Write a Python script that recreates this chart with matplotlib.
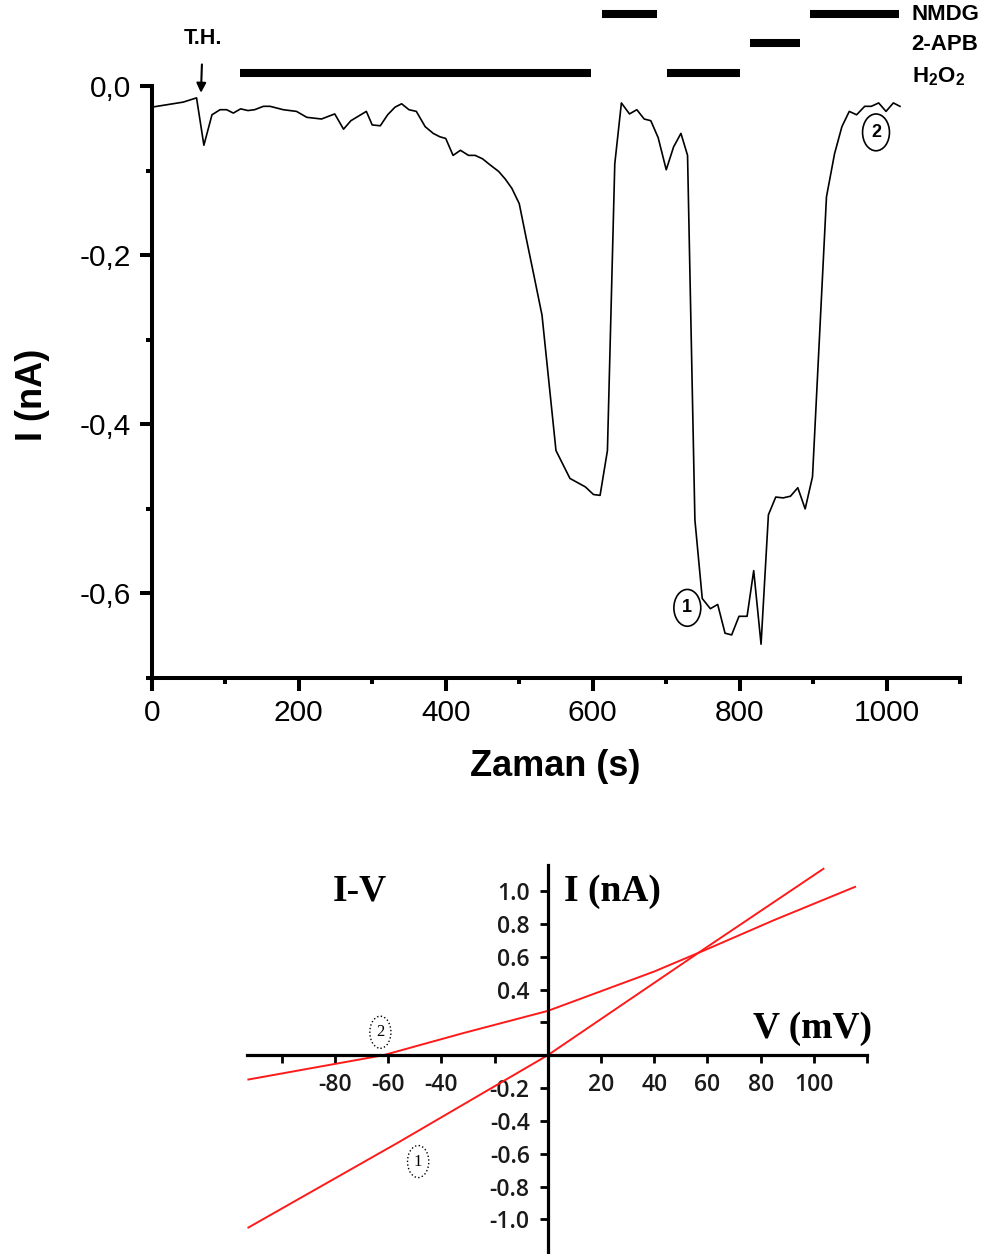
import matplotlib.pyplot as plt
from matplotlib.ticker import MultipleLocator

plt.rcParams["font.family"] = ["Liberation Sans", "DejaVu Sans"]
plt.rcParams["mathtext.fontset"] = "custom"
plt.rcParams["mathtext.rm"] = "Liberation Sans"
plt.rcParams["mathtext.bf"] = "Liberation Sans:bold"

# current trace (time in s, current in nA)
t = [0, 43, 61, 71, 82, 93, 102, 111, 121, 131, 140, 152, 161, 179, 197, 211,
     231, 240, 249, 261, 271, 292, 300, 311, 321, 331, 340, 350, 360, 372, 383,
     392, 400, 410, 420, 431, 440, 450, 460, 472, 481, 490, 500, 510, 520, 531,
     550, 569, 590, 601, 610, 620, 630, 639, 650, 660, 670, 679, 689, 700, 710,
     720, 729, 739, 749, 760, 770, 780, 789, 799, 810, 819, 829, 839, 849, 859,
     869, 879, 889, 899, 918, 929, 939, 949, 959, 970, 979, 989, 999, 1009, 1018]
current = [-0.025, -0.019, -0.014, -0.070, -0.034, -0.028, -0.028, -0.032,
           -0.027, -0.029, -0.028, -0.024, -0.024, -0.028, -0.030, -0.037,
           -0.039, -0.036, -0.033, -0.051, -0.041, -0.030, -0.046, -0.047,
           -0.034, -0.025, -0.021, -0.028, -0.030, -0.048, -0.056, -0.060,
           -0.062, -0.082, -0.076, -0.082, -0.082, -0.086, -0.093, -0.101,
           -0.110, -0.121, -0.139, -0.182, -0.224, -0.271, -0.431, -0.464,
           -0.474, -0.483, -0.484, -0.431, -0.092, -0.020, -0.033, -0.028,
           -0.039, -0.041, -0.061, -0.099, -0.072, -0.056, -0.082, -0.513,
           -0.606, -0.618, -0.613, -0.647, -0.649, -0.627, -0.627, -0.573,
           -0.660, -0.507, -0.486, -0.487, -0.485, -0.475, -0.500, -0.462,
           -0.131, -0.080, -0.048, -0.030, -0.034, -0.024, -0.024, -0.020,
           -0.030, -0.020, -0.024]

# application bars (start, end in s)
nmdg_bars = [(612, 688), (895, 1016)]
apb_bars = [(814, 882)]
h2o2_bars = [(120, 598), (701, 800)]
bar_names = ["NMDG", "2-APB", r"H$_\mathbf{2}$O$_\mathbf{2}$"]

yticks_top = [-0.6, -0.4, -0.2, 0.0]
yticklabels_top = ["-0,6", "-0,4", "-0,2", "0,0"]
xticks_top = [0, 200, 400, 600, 800, 1000]

# I-V curves
v1 = [-112.5, -56, 0, 59, 103.6]
i1 = [-1.05, -0.53, 0, 0.65, 1.136]
v2 = [-112.5, -61.8, -31.7, 0, 20, 40, 59, 85, 115.5]
i2 = [-0.148, 0, 0.135, 0.27, 0.39, 0.51, 0.64, 0.823, 1.026]

iv_xticks = [-100, -80, -60, -40, -20, 20, 40, 60, 80, 100, 120]
iv_xlabels = ["", "-80", "-60", "-40", "", "20", "40", "60", "80", "100", ""]
iv_yticks = [-1.0, -0.8, -0.6, -0.4, -0.2, 0.2, 0.4, 0.6, 0.8, 1.0]
iv_ylabels = ["-1.0", "-0.8", "-0.6", "-0.4", "-0.2", "", "0.4", "0.6", "0.8", "1.0"]

fig = plt.figure(figsize=(9.87, 12.54), dpi=100)

# ---- top: current trace ----
ax = fig.add_axes([0.1537, 0.4593, 0.8192, 0.4721])
ax.plot(t, current, color="black", lw=1.2)
ax.set_xlim(0, 1100)
ax.set_ylim(-0.7, 0.0)
for side in ["top", "right"]:
    ax.spines[side].set_visible(False)
for side in ["left", "bottom"]:
    ax.spines[side].set_linewidth(2.9)
ax.set_xticks(xticks_top)
ax.set_yticks(yticks_top, yticklabels_top)
ax.xaxis.set_minor_locator(MultipleLocator(100))
ax.yaxis.set_minor_locator(MultipleLocator(0.1))
ax.tick_params(which="major", length=9, width=2.9, labelsize=21.5, pad=6)
ax.tick_params(which="minor", length=4, width=2.9)

ax.set_xlabel("Zaman (s)", fontsize=26, fontweight="bold")
ax.set_ylabel("I (nA)", fontsize=26, fontweight="bold")
ax.xaxis.set_label_coords(0.499, -0.150)
ax.xaxis.label.set_va("center")
ax.yaxis.set_label_coords(-0.148, 0.478)
ax.yaxis.label.set_va("center")

rows = [(nmdg_bars, 0.085), (apb_bars, 0.0505), (h2o2_bars, 0.0157)]
for bars, y in rows:
    for a, b in bars:
        ax.plot([a, b], [y, y], color="black", lw=5.8, solid_capstyle="butt",
                clip_on=False)
for name, y in zip(bar_names, [0.085, 0.0495, 0.011]):
    ax.text(1034, y, name, fontsize=16, fontweight="bold", ha="left",
            va="center", clip_on=False)

ax.annotate("T.H.", xy=(67, -0.008), xytext=(69.5, 0.056), fontsize=15.5,
            fontweight="bold", ha="center", va="center", annotation_clip=False,
            arrowprops=dict(arrowstyle="-|>", color="black", lw=1.5,
                            mutation_scale=14, shrinkA=9, shrinkB=0))

circ = dict(boxstyle="ellipse,pad=0.25", fc="white", ec="black", lw=1.2)
ax.text(728.7, -0.617, "1", fontsize=13, fontweight="bold", ha="center",
        va="center", bbox=circ)
ax.text(985.4, -0.0548, "2", fontsize=13, fontweight="bold", ha="center",
        va="center", bbox=circ)

# ---- bottom: I-V plot ----
bx = fig.add_axes([0.2503, 0.0016, 0.6282, 0.3086])
bx.plot(v1, i1, color="#ff1a1a", lw=1.4)
bx.plot(v2, i2, color="#ff1a1a", lw=1.4)
bx.set_xlim(-113, 120)
bx.set_ylim(-1.199, 1.159)
bx.spines["top"].set_visible(False)
bx.spines["right"].set_visible(False)
bx.spines["left"].set_position(("data", 0))
bx.spines["bottom"].set_position(("data", 0))
bx.spines["left"].set_linewidth(2.3)
bx.spines["bottom"].set_linewidth(2.3)
bx.set_xticks(iv_xticks, iv_xlabels)
bx.set_yticks(iv_yticks, iv_ylabels)
bx.tick_params(length=6, width=2, labelsize=16.5, pad=7)
for lab in bx.get_xticklabels() + bx.get_yticklabels():
    lab.set_family(["Open Sans", "DejaVu Sans"])
    lab.set_fontweight("semibold")
    lab.set_color("#1a1a1a")

serif = dict(family=["Liberation Serif", "DejaVu Serif"], fontweight="bold",
             fontsize=27)
bx.text(-70.5, 1.0, "I-V", ha="center", va="center", **serif)
bx.text(24.3, 1.0, "I (nA)", ha="center", va="center", **serif)
bx.text(99.5, 0.165, "V (mV)", ha="center", va="center", **serif)

oval = dict(boxstyle="ellipse,pad=0.2", fc="white", ec="black", lw=1, ls=":")
bx.text(-62.9, 0.14, "2", ha="center", va="center", fontsize=12,
        family=["Liberation Serif"], bbox=oval)
bx.text(-48.7, -0.648, "1", ha="center", va="center", fontsize=12,
        family=["Liberation Serif"], bbox=oval)

fig.savefig("out.png", dpi=100)
